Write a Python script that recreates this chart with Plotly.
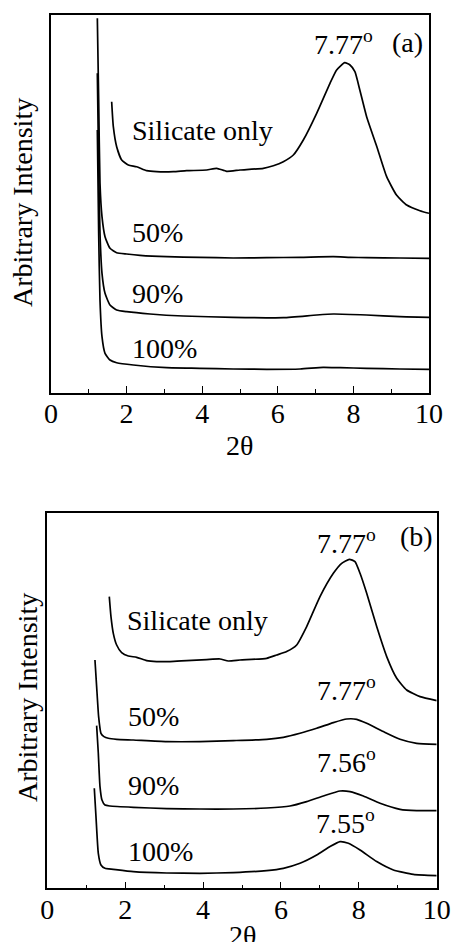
import plotly.graph_objects as go

# ---------------- Panel (a) data ----------------
a_sil_x = [1.605, 1.649, 1.737, 1.870, 2.046, 2.266, 2.531, 2.795, 3.236, 3.589, 4.118, 4.383, 4.647, 5.000,
           5.617, 5.882, 6.146, 6.411, 6.675, 7.028, 7.381, 7.557, 7.77, 7.91, 8.04, 8.17, 8.35, 8.62, 8.88,
           9.14, 9.41, 9.76, 10.0]
a_sil_y = [291.3, 266.3, 246.3, 233, 228, 226.3, 222.3, 221.3, 221.3, 222.3, 223, 224.7, 221.7, 223,
           224.7, 227.3, 231.3, 238, 253, 279.7, 309.7, 323, 330.3, 328, 321.3, 303, 276.3, 246.3, 216.3,
           198, 188, 182.3, 179.7]

a_50_x = [1.226, 1.261, 1.296, 1.349, 1.429, 1.561, 1.737, 2.002, 2.354, 3.06, 3.94, 4.82, 5.71, 6.59,
          7.47, 7.91, 8.35, 9.23, 10.0]
a_50_y = [374.7, 293, 209.7, 176.3, 156.3, 144.7, 140.3, 139, 137.7, 136.3, 135.7, 135, 135.3, 135.7,
          136.3, 135.7, 135.3, 135, 134.7]

a_90_x = [1.226, 1.261, 1.296, 1.349, 1.429, 1.561, 1.737, 2.002, 2.619, 3.50, 4.82, 6.15, 7.03, 7.47,
          8.35, 9.23, 10.0]
a_90_y = [319.7, 226.3, 159.7, 119.7, 99.7, 88, 83, 81.3, 79, 77, 75.7, 75.3, 78, 79, 78, 76.3, 75.7]

a_100_x = [1.226, 1.261, 1.296, 1.349, 1.429, 1.561, 1.737, 2.178, 3.06, 3.94, 4.82, 5.71, 6.59, 7.20,
           7.65, 8.35, 9.23, 10.0]
a_100_y = [263, 159.7, 93, 56.3, 39.7, 33, 30.3, 28, 25.3, 24.7, 24, 23.7, 24, 25.7, 25.3, 24.7, 24, 23.7]

# ---------------- Panel (b) data ----------------
b_sil_x = [1.592, 1.635, 1.695, 1.781, 1.909, 2.080, 2.295, 2.551, 2.808, 3.151, 3.579, 4.092, 4.435,
           4.649, 4.949, 5.634, 5.890, 6.147, 6.404, 6.661, 7.003, 7.346, 7.560, 7.757, 7.902, 8.031,
           8.202, 8.459, 8.716, 8.973, 9.229, 9.572, 10.0]
b_sil_y = [291.7, 271.7, 255, 243.3, 235.7, 232.3, 231, 227.7, 226.7, 226.7, 227.7, 228.7, 229.3,
           227.3, 228.3, 230, 233.3, 236.7, 243.3, 261.7, 291.7, 315, 325, 329, 326.7, 315,
           295, 261.7, 231.7, 210, 198.3, 191.7, 187.7]

b_50_x = [1.224, 1.267, 1.318, 1.378, 1.455, 1.567, 1.781, 2.209, 3.065, 3.921, 4.777, 5.634, 6.062,
          6.490, 6.918, 7.346, 7.688, 7.945, 8.202, 8.630, 9.058, 9.486, 10.0]
b_50_y = [228.3, 201.7, 171.7, 155, 151.7, 150, 149, 148.3, 146.7, 146.7, 147.7, 149, 151,
          155, 160, 165.7, 169.3, 169, 165, 156.7, 149, 145, 144]

b_90_x = [1.267, 1.310, 1.353, 1.404, 1.481, 1.610, 2.209, 3.065, 3.921, 4.777, 5.634, 6.233, 6.661,
          7.089, 7.517, 7.774, 8.116, 8.545, 9.058, 9.486, 10.0]
b_90_y = [162.7, 135, 101.7, 88.3, 83.3, 82.3, 81, 79.7, 79.3, 79.3, 80.3, 82.3, 86.7,
          92.3, 97.3, 96.7, 92.3, 85, 79, 77.7, 77.7]

b_100_x = [1.207, 1.250, 1.310, 1.378, 1.481, 1.695, 2.209, 3.065, 3.921, 4.777, 5.634, 6.062, 6.490,
           6.918, 7.260, 7.517, 7.731, 8.031, 8.459, 8.887, 9.401, 10.0]
b_100_y = [100, 71.7, 35, 23.3, 20, 19, 16.7, 15.3, 15, 15.7, 17.7, 20, 25,
           33.3, 41.7, 46.7, 45, 38.3, 26.7, 18.3, 14, 12.7]

# ---------------- labels ----------------
a_labels = ["Silicate only", "50%", "90%", "100%"]
a_label_pos = [(2.09, 263), (2.09, 161), (2.09, 100), (2.09, 45)]
a_peak_text = ["7.77<sup>o</sup>"]
a_peak_pos = [(6.9, 351)]

b_labels = ["Silicate only", "50%", "90%", "100%"]
b_label_pos = [(2.0, 268), (2.02, 172), (2.02, 103), (2.02, 37)]
b_peak_text = ["7.77<sup>o</sup>", "7.77<sup>o</sup>", "7.56<sup>o</sup>", "7.55<sup>o</sup>"]
b_peak_pos = [(6.87, 347), (6.87, 200), (6.87, 128), (6.85, 67)]

FONT = "Liberation Serif"
FS = 28
LW = 1.7

fig = go.Figure()
for xs, ys in [(a_sil_x, a_sil_y), (a_50_x, a_50_y), (a_90_x, a_90_y), (a_100_x, a_100_y)]:
    fig.add_trace(go.Scatter(x=xs, y=ys, mode="lines", line=dict(color="black", width=LW, shape="spline", smoothing=0.5),
                             xaxis="x", yaxis="y", showlegend=False))
for xs, ys in [(b_sil_x, b_sil_y), (b_50_x, b_50_y), (b_90_x, b_90_y), (b_100_x, b_100_y)]:
    fig.add_trace(go.Scatter(x=xs, y=ys, mode="lines", line=dict(color="black", width=LW, shape="spline", smoothing=0.5),
                             xaxis="x2", yaxis="y2", showlegend=False))

W, H = 451, 942

def xax(domain):
    return dict(domain=domain, range=[0, 10], showline=True, linecolor="black", linewidth=1.5, mirror=True,
                ticks="inside", ticklen=7, tickwidth=1.3, tickcolor="black", dtick=2, tick0=0,
                minor=dict(ticks="inside", ticklen=4, tickwidth=1.3, tickcolor="black", dtick=1),
                showgrid=False, zeroline=False, tickfont=dict(family=FONT, size=FS, color="black"),
                ticklabelstandoff=-5, automargin=False)

def yax(domain, anchor):
    return dict(domain=domain, range=[0, 378], showline=True, linecolor="black", linewidth=1.5, mirror=True,
                ticks="", showticklabels=False, showgrid=False, zeroline=False, automargin=False, anchor=anchor)

TF = dict(family=FONT, size=FS, color="black")
annotations = []
for t, (x, y) in zip(a_labels, a_label_pos):
    annotations.append(dict(text=t, x=x, y=y, xref="x", yref="y", xanchor="left", yanchor="middle", showarrow=False, font=TF))
for t, (x, y) in zip(a_peak_text, a_peak_pos):
    annotations.append(dict(text=t, x=x, y=y, xref="x", yref="y", xanchor="left", yanchor="middle", showarrow=False, font=TF))
annotations.append(dict(text="(a)", x=8.97, y=351, xref="x", yref="y", xanchor="left", yanchor="middle", showarrow=False, font=TF))
for t, (x, y) in zip(b_labels, b_label_pos):
    annotations.append(dict(text=t, x=x, y=y, xref="x2", yref="y2", xanchor="left", yanchor="middle", showarrow=False, font=TF))
for t, (x, y) in zip(b_peak_text, b_peak_pos):
    annotations.append(dict(text=t, x=x, y=y, xref="x2", yref="y2", xanchor="left", yanchor="middle", showarrow=False, font=TF))
annotations.append(dict(text="(b)", x=9.0, y=352, xref="x2", yref="y2", xanchor="left", yanchor="middle", showarrow=False, font=TF))

# axis titles
annotations.append(dict(text="2θ", x=240 / W, y=1 - 445 / H, xref="paper", yref="paper",
                        xanchor="center", yanchor="middle", showarrow=False, font=TF))
annotations.append(dict(text="Arbitrary Intensity", x=22 / W, y=1 - 203 / H, xref="paper", yref="paper",
                        xanchor="center", yanchor="middle", textangle=-90, showarrow=False, font=TF))
annotations.append(dict(text="2θ", x=242 / W, y=1 - 935 / H, xref="paper", yref="paper",
                        xanchor="center", yanchor="middle", showarrow=False, font=TF))
annotations.append(dict(text="Arbitrary Intensity", x=27 / W, y=1 - 698 / H, xref="paper", yref="paper",
                        xanchor="center", yanchor="middle", textangle=-90, showarrow=False, font=TF))

fig.update_layout(
    width=W, height=H,
    margin=dict(l=0, r=0, t=0, b=0),
    paper_bgcolor="white", plot_bgcolor="white",
    font=dict(family=FONT, size=FS, color="black"),
    xaxis=xax([51 / W, 429 / W]),
    yaxis=yax([1 - 393 / H, 1 - 15 / H], "x"),
    xaxis2=dict(**xax([47.3 / W, 436.7 / W]), anchor="y2"),
    yaxis2=yax([1 - 888.3 / H, 1 - 513.3 / H], "x2"),
    annotations=annotations,
)
fig.update_layout(xaxis=dict(anchor="y"))
fig.update_layout(yaxis2=dict(range=[0, 375]))

fig.write_html("out.html")
